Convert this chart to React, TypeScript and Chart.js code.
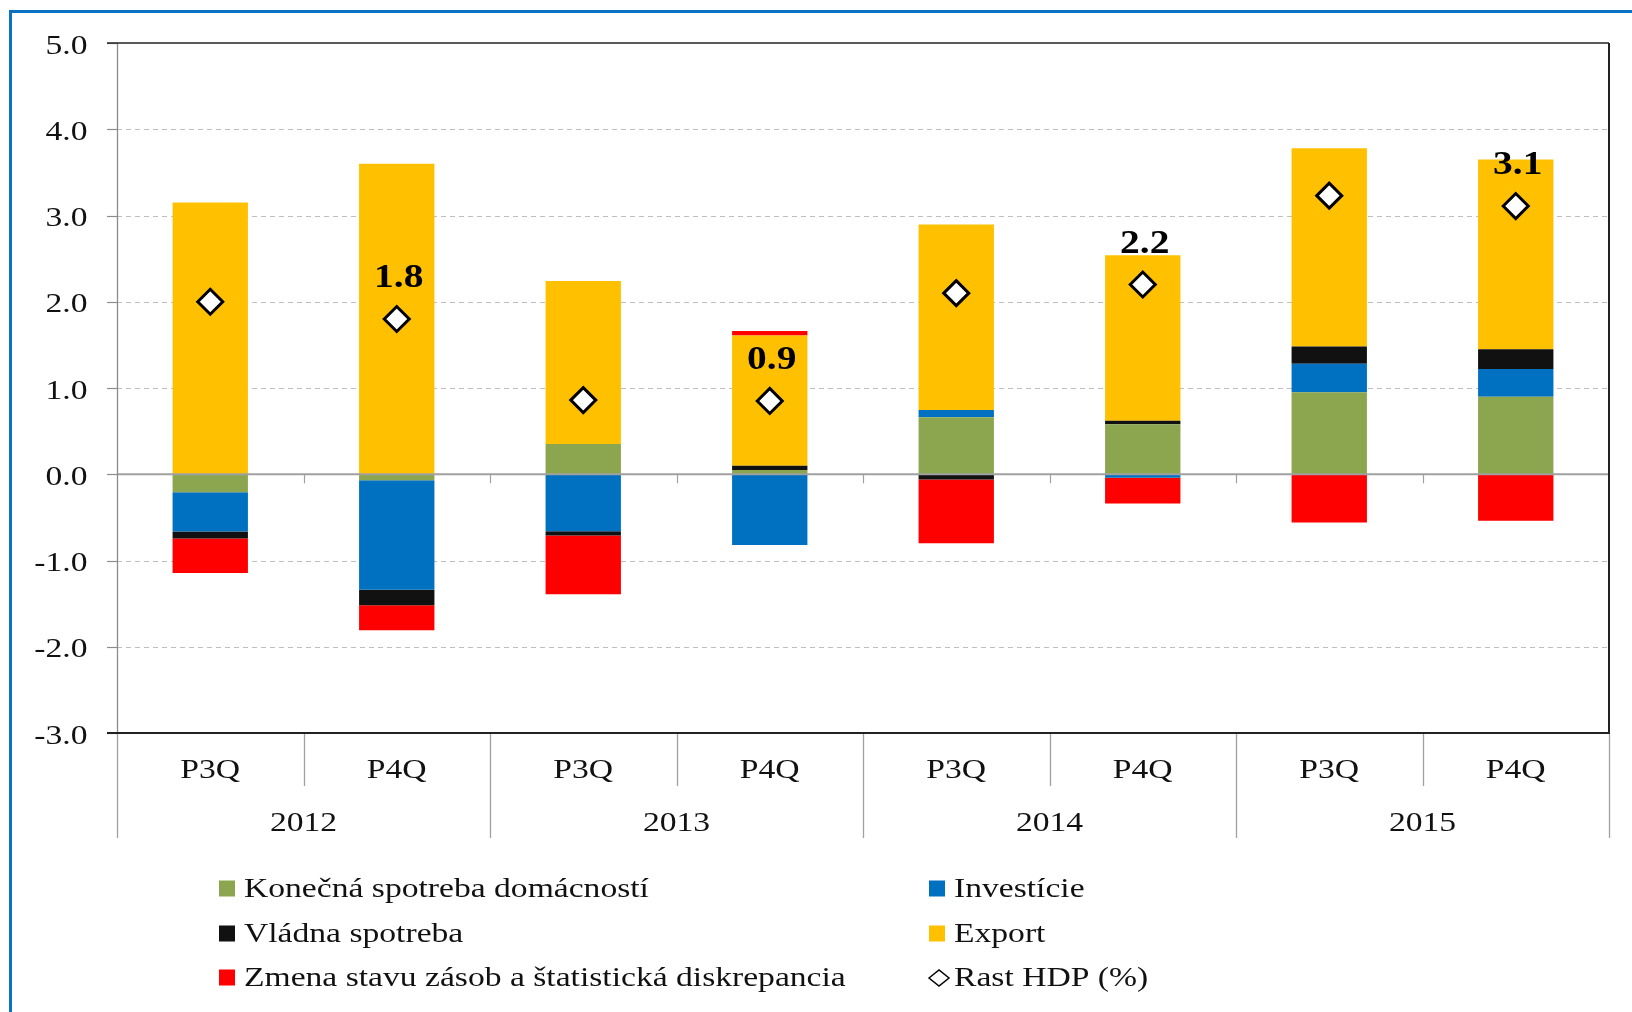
import React, { useEffect, useRef } from 'react';
import { Chart, registerables } from 'chart.js';

Chart.register(...registerables);

// ---- Data ----
const quarters = ['P3Q', 'P4Q', 'P3Q', 'P4Q', 'P3Q', 'P4Q', 'P3Q', 'P4Q'];
const years = ['2012', '2013', '2014', '2015'];
const households = [-0.21, -0.07, 0.35, 0.05, 0.66, 0.58, 0.95, 0.9];
const investment = [-0.455, -1.27, -0.66, -0.82, 0.085, -0.04, 0.33, 0.32];
const government = [-0.08, -0.18, -0.05, 0.05, -0.06, 0.04, 0.2, 0.23];
const exportsData = [3.15, 3.6, 1.89, 1.51, 2.15, 1.92, 2.3, 2.2];
const inventories = [-0.4, -0.29, -0.68, 0.05, -0.74, -0.3, -0.56, -0.54];
const gdpGrowth = [2.0, 1.8, 0.86, 0.85, 2.1, 2.2, 3.23, 3.11];
const gdpLabels = ['', '1.8', '', '0.9', '', '2.2', '', '3.1'];
const seriesNames = [
  'Konečná spotreba domácností',
  'Investície',
  'Vládna spotreba',
  'Export',
  'Zmena stavu zásob a štatistická diskrepancia',
  'Rast HDP (%)',
];
const yMin = -3;
const yMax = 5;
const yStep = 1;

// ---- Styles ----
const COLORS = ['#8BA64F', '#0070C0', '#111111', '#FFC000', '#FF0000'];
const FONT_FAMILY = '"Liberation Serif", "Times New Roman", serif';
const SX = 1.2; // horizontal stretch of the original picture's text

function stretchText(
  ctx: CanvasRenderingContext2D,
  text: string,
  x: number,
  y: number,
  align: CanvasTextAlign,
  font: string,
  sx: number = SX,
  color: string = '#111'
) {
  ctx.save();
  ctx.font = font;
  ctx.fillStyle = color;
  ctx.textAlign = align;
  ctx.textBaseline = 'alphabetic';
  ctx.translate(x, y);
  ctx.scale(sx, 1);
  ctx.fillText(text, 0, 0);
  ctx.restore();
}

function line(ctx: CanvasRenderingContext2D, x1: number, y1: number, x2: number, y2: number) {
  ctx.beginPath();
  ctx.moveTo(x1, y1);
  ctx.lineTo(x2, y2);
  ctx.stroke();
}

const framePlugin = {
  id: 'frame',
  beforeDraw(chart: any) {
    const { ctx, width, height } = chart;
    ctx.save();
    ctx.fillStyle = '#ffffff';
    ctx.fillRect(0, 0, width, height);
    ctx.fillStyle = '#0B72C4';
    ctx.fillRect(9, 10, width - 9, 3);
    ctx.fillRect(9, 10, 3, height - 10);
    ctx.restore();
  },
};

const gridPlugin = {
  id: 'dashGrid',
  beforeDatasetsDraw(chart: any) {
    const { ctx, chartArea } = chart;
    const y = chart.scales.y;
    ctx.save();
    ctx.strokeStyle = '#BFBFBF';
    ctx.lineWidth = 1;
    ctx.setLineDash([5, 4]);
    y.ticks.forEach((t: any) => {
      if (t.value === 0 || t.value === yMax || t.value === yMin) return;
      const py = Math.round(y.getPixelForValue(t.value)) + 0.5;
      line(ctx, chartArea.left, py, chartArea.right, py);
    });
    ctx.restore();
  },
};

const axesPlugin = {
  id: 'axesText',
  afterDatasetsDraw(chart: any) {
    const { ctx, chartArea } = chart;
    const { left, right, top, bottom } = chartArea;
    const x = chart.scales.x;
    const y = chart.scales.y;
    const n = quarters.length;
    const boundary = (i: number) => {
      if (i <= 0) return left;
      if (i >= n) return right;
      return (x.getPixelForValue(i - 1) + x.getPixelForValue(i)) / 2;
    };
    ctx.save();

    // gridline ticks on the y axis
    ctx.strokeStyle = '#8C8C8C';
    ctx.lineWidth = 1.2;
    y.ticks.forEach((t: any) => {
      const py = Math.round(y.getPixelForValue(t.value)) + 0.5;
      line(ctx, left - 10, py, left, py);
    });

    // zero line and its category tick marks
    const y0 = y.getPixelForValue(0);
    ctx.strokeStyle = '#A0A0A0';
    ctx.lineWidth = 2;
    line(ctx, left, y0, right, y0);
    ctx.lineWidth = 1.2;
    for (let i = 1; i < n; i++) {
      const bx = Math.round(boundary(i)) + 0.5;
      line(ctx, bx, y0, bx, y0 + 9);
    }

    // separators under the plot
    ctx.strokeStyle = '#A0A0A0';
    ctx.lineWidth = 1.3;
    for (let i = 0; i <= n; i++) {
      const bx = Math.round(boundary(i)) + 0.5;
      const len = i % 2 === 0 ? 105 : 53;
      line(ctx, bx, bottom, bx, bottom + len);
    }

    // left axis line
    ctx.strokeStyle = '#8C8C8C';
    ctx.lineWidth = 1.3;
    line(ctx, left + 0.5, top, left + 0.5, bottom);

    // plot border: top, right, bottom
    ctx.strokeStyle = '#222222';
    ctx.lineWidth = 1.5;
    line(ctx, left - 10, top, right, top);
    ctx.lineWidth = 2;
    line(ctx, right, top, right, bottom);
    line(ctx, left - 10, bottom, right + 1, bottom);

    // y tick labels
    const tickFont = `28px ${FONT_FAMILY}`;
    y.ticks.forEach((t: any) => {
      const py = y.getPixelForValue(t.value);
      stretchText(ctx, Number(t.value).toFixed(1), left - 29.5, py + 10.5, 'right', tickFont);
    });

    // category labels
    quarters.forEach((q, i) => {
      stretchText(ctx, q, x.getPixelForValue(i), bottom + 44.5, 'center', tickFont);
    });
    years.forEach((yr, j) => {
      const cx = (x.getPixelForValue(2 * j) + x.getPixelForValue(2 * j + 1)) / 2;
      stretchText(ctx, yr, cx, bottom + 97.5, 'center', tickFont);
    });

    // GDP data labels
    const meta = chart.getDatasetMeta(5);
    meta.data.forEach((pt: any, i: number) => {
      const lbl = gdpLabels[i];
      if (!lbl) return;
      stretchText(ctx, lbl, pt.x + 2, pt.y - 32, 'center', `bold 34px ${FONT_FAMILY}`, 1.16, '#000');
    });

    // legend (2 columns, row-major)
    const colX = [219, 929];
    const rowY = [897, 942, 986];
    chart.data.datasets.forEach((ds: any, i: number) => {
      const cx = colX[i % 2];
      const by = rowY[Math.floor(i / 2)];
      if (ds.type === 'line') {
        ctx.save();
        ctx.strokeStyle = '#000';
        ctx.fillStyle = '#fff';
        ctx.lineWidth = 1.5;
        ctx.beginPath();
        const mx = cx + 10;
        const my = by - 8;
        ctx.moveTo(mx - 10, my);
        ctx.lineTo(mx, my - 8);
        ctx.lineTo(mx + 10, my);
        ctx.lineTo(mx, my + 8);
        ctx.closePath();
        ctx.fill();
        ctx.stroke();
        ctx.restore();
      } else {
        ctx.fillStyle = ds.backgroundColor;
        ctx.fillRect(cx, by - 16.5, 16, 16);
      }
      stretchText(ctx, ds.label, cx + 25, by, 'left', `28px ${FONT_FAMILY}`);
    });

    ctx.restore();
  },
};

export default function App() {
  const canvasRef = useRef<HTMLCanvasElement | null>(null);

  useEffect(() => {
    const canvas = canvasRef.current;
    if (!canvas) return;
    const barSeries = [households, investment, government, exportsData, inventories];
    const datasets: any[] = barSeries.map((data, i) => ({
      type: 'bar',
      label: seriesNames[i],
      data,
      backgroundColor: COLORS[i],
      borderWidth: 0,
      stack: 'contrib',
      order: 1,
      categoryPercentage: 1,
      barPercentage: 0.404,
    }));
    datasets.push({
      type: 'line',
      label: seriesNames[5],
      data: gdpGrowth,
      showLine: false,
      stack: 'gdp',
      order: 0,
      pointStyle: 'rectRot',
      pointRadius: 12.5,
      pointBorderWidth: 3,
      pointBackgroundColor: '#ffffff',
      pointBorderColor: '#000000',
      backgroundColor: '#ffffff',
      borderColor: '#000000',
    });

    const chart = new Chart(canvas, {
      type: 'bar',
      data: { labels: quarters, datasets },
      options: {
        animation: false,
        responsive: false,
        devicePixelRatio: 1,
        layout: { padding: { left: 117, top: 43, right: 23, bottom: 279 } },
        plugins: { legend: { display: false }, tooltip: { enabled: false } },
        scales: {
          x: { display: false, stacked: true, offset: true },
          y: {
            display: false,
            stacked: true,
            min: yMin,
            max: yMax,
            ticks: { stepSize: yStep },
          },
        },
      },
      plugins: [framePlugin, gridPlugin, axesPlugin],
    } as any);

    return () => chart.destroy();
  }, []);

  return (
    <canvas
      ref={canvasRef}
      width={1632}
      height={1012}
      style={{ position: 'fixed', left: 0, top: 0, display: 'block', width: 1632, height: 1012 }}
    />
  );
}
